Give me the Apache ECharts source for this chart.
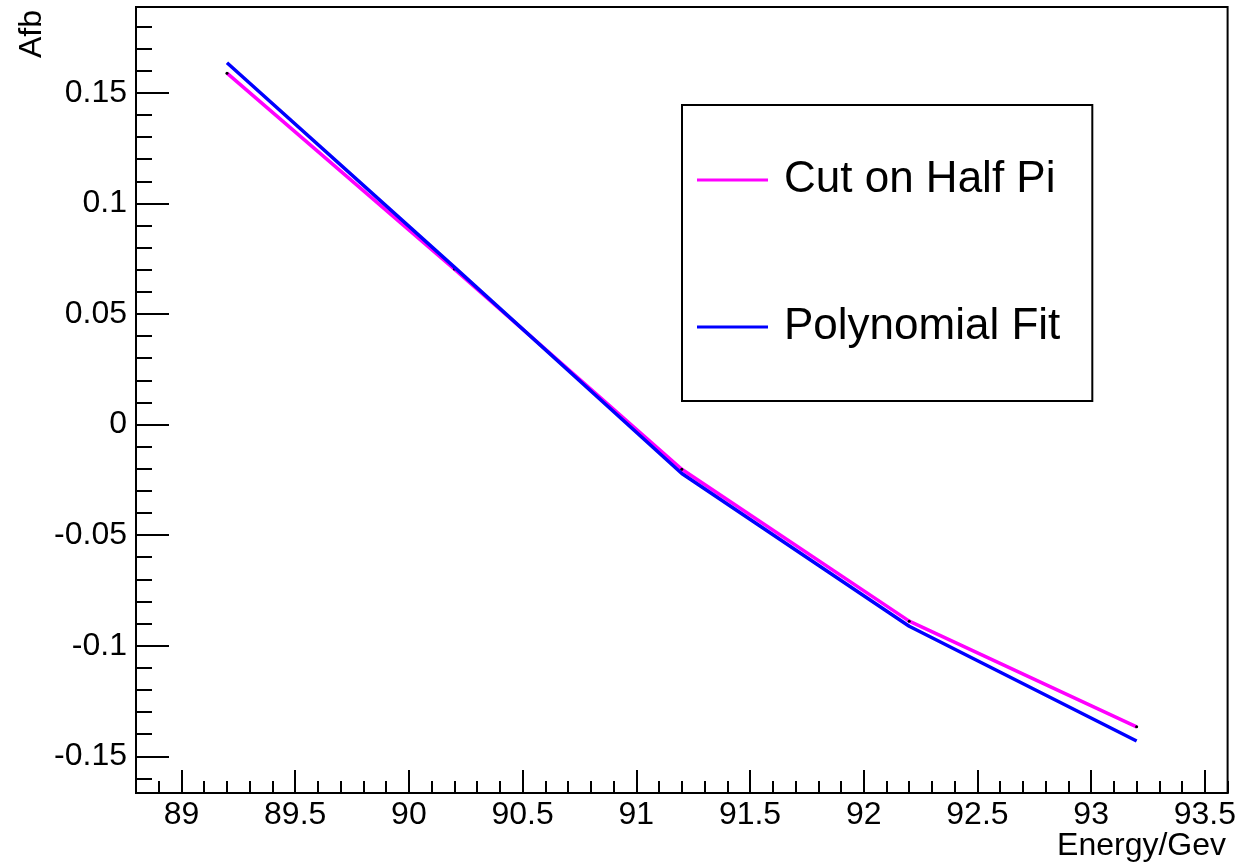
<!DOCTYPE html>
<html>
<head>
<meta charset="utf-8">
<script src="https://cdn.jsdelivr.net/npm/echarts@6/dist/echarts.min.js"></script>
<style>
html,body{margin:0;padding:0;background:#fff;}
#chart{width:1239px;height:865px;}
</style>
</head>
<body>
<div id="chart"></div>
<script>
// ---- data ----
const energies = [89.2, 90.2, 91.2, 92.2, 93.2];
const cutHalfPi = [0.1589, 0.0703, -0.0202, -0.0889, -0.1367];
const polyFit = [0.1636, 0.0712, -0.0221, -0.0912, -0.1431];
const seriesNames = ['Cut on Half Pi', 'Polynomial Fit'];

// ---- axis ticks / labels ----
const xMajorTicks = [89, 89.5, 90, 90.5, 91, 91.5, 92, 92.5, 93, 93.5];
const xMinorTicks = [88.9, 89.1, 89.2, 89.3, 89.4, 89.6, 89.7, 89.8, 89.9, 90.1, 90.2, 90.3, 90.4,
  90.6, 90.7, 90.8, 90.9, 91.1, 91.2, 91.3, 91.4, 91.6, 91.7, 91.8, 91.9, 92.1, 92.2, 92.3, 92.4,
  92.6, 92.7, 92.8, 92.9, 93.1, 93.2, 93.3, 93.4, 93.6];
const yMajorTicks = [-0.15, -0.1, -0.05, 0, 0.05, 0.1, 0.15];
const yMinorTicks = [-0.16, -0.14, -0.13, -0.12, -0.11, -0.09, -0.08, -0.07, -0.06, -0.04, -0.03,
  -0.02, -0.01, 0.01, 0.02, 0.03, 0.04, 0.06, 0.07, 0.08, 0.09, 0.11, 0.12, 0.13, 0.14, 0.16, 0.17, 0.18];
const xRange = [88.8, 93.6];
const yRange = [-0.1666, 0.1888];
const xTitle = 'Energy/Gev';
const yTitle = 'Afb';

const FONT = '"Liberation Sans", Arial, Helvetica, sans-serif';

function fmtY(v) {
  return String(Math.round(v * 1000) / 1000);
}
function fmtX(v) {
  return String(Math.round(v * 10) / 10);
}

const chart = echarts.init(document.getElementById('chart'), null, {renderer: 'canvas'});

const option = {
  animation: false,
  backgroundColor: '#fff',
  grid: {
    left: 136, right: 11, top: 7, bottom: 72,
    show: true, borderColor: '#000', borderWidth: 2, backgroundColor: 'transparent'
  },
  xAxis: [
    {
      type: 'value', min: xRange[0], max: xRange[1], position: 'bottom',
      axisLine: {show: true, onZero: false, lineStyle: {color: '#000', width: 2}},
      axisTick: {show: true, inside: true, length: 23, customValues: xMajorTicks, lineStyle: {color: '#000', width: 2}},
      axisLabel: {show: true, customValues: xMajorTicks, formatter: fmtX, margin: 6,
        color: '#000', fontSize: 32, fontFamily: FONT},
      splitLine: {show: false}
    },
    {
      type: 'value', min: xRange[0], max: xRange[1], position: 'bottom',
      axisLine: {show: false, onZero: false},
      axisTick: {show: true, inside: true, length: 12, customValues: xMinorTicks, lineStyle: {color: '#000', width: 2}},
      axisLabel: {show: false},
      splitLine: {show: false}
    }
  ],
  yAxis: [
    {
      type: 'value', min: yRange[0], max: yRange[1], position: 'left',
      axisLine: {show: true, onZero: false, lineStyle: {color: '#000', width: 2}},
      axisTick: {show: true, inside: true, length: 33, customValues: yMajorTicks, lineStyle: {color: '#000', width: 2}},
      axisLabel: {show: true, customValues: yMajorTicks, formatter: fmtY, margin: 9,
        color: '#000', fontSize: 32, fontFamily: FONT},
      splitLine: {show: false}
    },
    {
      type: 'value', min: yRange[0], max: yRange[1], position: 'left', offset: 0,
      axisLine: {show: false, onZero: false},
      axisTick: {show: true, inside: true, length: 16, customValues: yMinorTicks, lineStyle: {color: '#000', width: 2}},
      axisLabel: {show: false},
      splitLine: {show: false}
    }
  ],
  legend: {
    left: 682, top: 105, orient: 'vertical',
    backgroundColor: '#fff', borderColor: '#000', borderWidth: 2, borderRadius: 0,
    padding: [50, 32, 49, 15],
    itemWidth: 71, itemHeight: 3, itemGap: 97,
    textStyle: {fontSize: 44, fontFamily: FONT, color: '#000', lineHeight: 50, padding: [0, 0, 0, 11]},
    data: [
      {name: seriesNames[0], icon: 'rect', itemStyle: {color: '#ff00ff'}},
      {name: seriesNames[1], icon: 'rect', itemStyle: {color: '#0000ff'}}
    ]
  },
  series: [
    {
      name: seriesNames[0], type: 'line', xAxisIndex: 0, yAxisIndex: 0,
      data: energies.map((e, i) => [e, cutHalfPi[i]]),
      symbol: 'circle', symbolSize: 3, showSymbol: true,
      itemStyle: {color: '#000'},
      lineStyle: {color: '#ff00ff', width: 3.5},
      color: '#ff00ff',
      z: 3
    },
    {
      name: seriesNames[1], type: 'line', xAxisIndex: 0, yAxisIndex: 0,
      data: energies.map((e, i) => [e, polyFit[i]]),
      symbol: 'none', showSymbol: false,
      lineStyle: {color: '#0000ff', width: 3.5},
      color: '#0000ff',
      z: 4
    }
  ],
  graphic: [
    {
      type: 'text', x: 1226, y: 846,
      style: {text: xTitle, fontSize: 32, fontFamily: FONT, fill: '#000', align: 'right', verticalAlign: 'middle'}
    },
    {
      type: 'text', x: 32, y: 10, rotation: Math.PI / 2,
      style: {text: yTitle, fontSize: 32, fontFamily: FONT, fill: '#000', align: 'right', verticalAlign: 'middle'}
    }
  ]
};
chart.setOption(option);
</script>
</body>
</html>
